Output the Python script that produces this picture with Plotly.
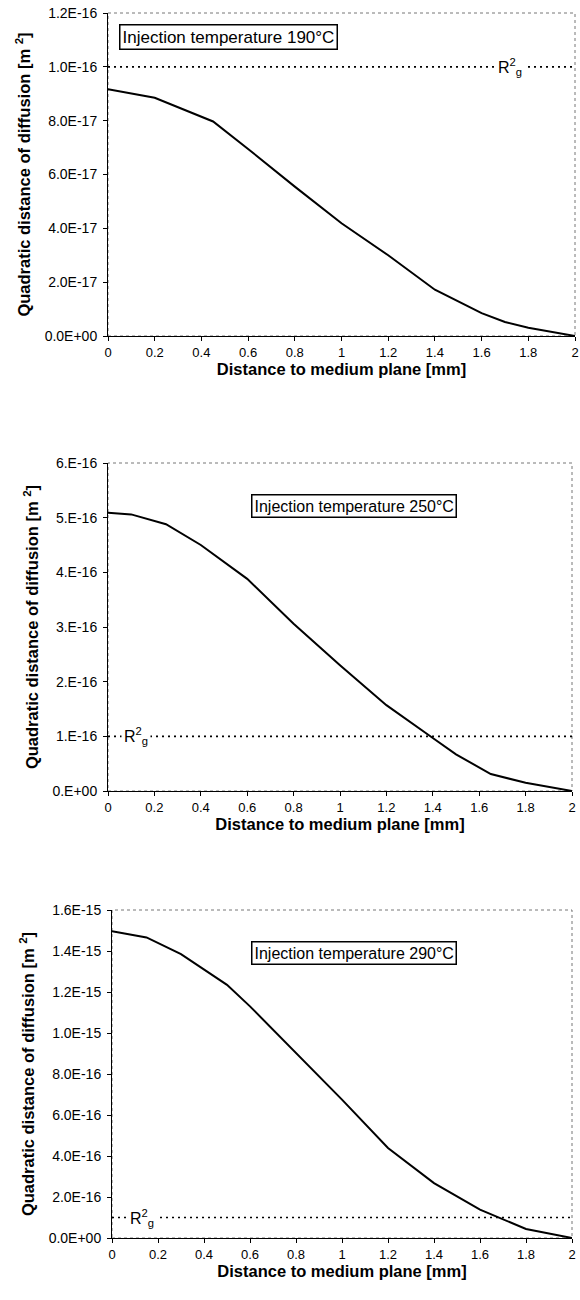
import plotly.graph_objects as go

# ---------------- data ----------------
x_190 = [0, 0.2, 0.45, 0.6, 0.8, 1.0, 1.2, 1.4, 1.6, 1.7, 1.8, 1.9, 2.0]
y_190 = [9.17e-17, 8.85e-17, 7.97e-17, 6.95e-17, 5.55e-17, 4.19e-17, 3.0e-17,
         1.72e-17, 0.85e-17, 0.52e-17, 0.31e-17, 0.15e-17, 0.0]

x_250 = [0, 0.1, 0.25, 0.4, 0.6, 0.8, 1.0, 1.2, 1.4, 1.5, 1.65, 1.8, 2.0]
y_250 = [5.09e-16, 5.06e-16, 4.88e-16, 4.50e-16, 3.88e-16, 3.06e-16, 2.30e-16,
         1.57e-16, 0.97e-16, 0.67e-16, 0.31e-16, 0.15e-16, 0.0]

x_290 = [0, 0.15, 0.3, 0.5, 0.6, 0.8, 1.0, 1.2, 1.4, 1.6, 1.8, 2.0]
y_290 = [1.496e-15, 1.466e-15, 1.385e-15, 1.235e-15, 1.13e-15, 9.05e-16, 6.75e-16,
         4.39e-16, 2.68e-16, 1.38e-16, 0.44e-16, 0.0]

rg2 = 1e-16  # R^2_g level

x_tickvals = [0, 0.2, 0.4, 0.6, 0.8, 1.0, 1.2, 1.4, 1.6, 1.8, 2.0]
x_ticktext = ["0", "0.2", "0.4", "0.6", "0.8", "1", "1.2", "1.4", "1.6", "1.8", "2"]

y1_tickvals = [0, 2e-17, 4e-17, 6e-17, 8e-17, 1e-16, 1.2e-16]
y1_ticktext = ["0.0E+00", "2.0E-17", "4.0E-17", "6.0E-17", "8.0E-17", "1.0E-16", "1.2E-16"]
y2_tickvals = [0, 1e-16, 2e-16, 3e-16, 4e-16, 5e-16, 6e-16]
y2_ticktext = ["0.E+00", "1.E-16", "2.E-16", "3.E-16", "4.E-16", "5.E-16", "6.E-16"]
y3_tickvals = [0, 2e-16, 4e-16, 6e-16, 8e-16, 1e-15, 1.2e-15, 1.4e-15, 1.6e-15]
y3_ticktext = ["0.0E+00", "2.0E-16", "4.0E-16", "6.0E-16", "8.0E-16", "1.0E-15",
               "1.2E-15", "1.4E-15", "1.6E-15"]

box_texts = ["Injection temperature 190°C", "Injection temperature 250°C",
             "Injection temperature 290°C"]

x_title = "Distance to medium plane [mm]"
y_title = "Quadratic distance of diffusion [m <sup>2</sup>]"
rg_label = "R<sup>2</sup><sub>g</sub>"

# ---------------- figure ----------------
W, H = 580, 1300
FONT = "Arial, Liberation Sans, sans-serif"

panels = [
    dict(x=x_190, y=y_190, yr=[0, 1.2e-16], tv=y1_tickvals, tt=y1_ticktext,
         xd=[108 / W, 575 / W], yd=[1 - 336 / H, 1 - 13 / H],
         box=box_texts[0], box_pos=(0.045, 1.11e-16), box_size=17,
         rg_x=1.72),
    dict(x=x_250, y=y_250, yr=[0, 6e-16], tv=y2_tickvals, tt=y2_ticktext,
         xd=[108 / W, 572 / W], yd=[1 - 791 / H, 1 - 463 / H],
         box=box_texts[1], box_pos=(0.615, 5.22e-16), box_size=16,
         rg_x=0.12),
    dict(x=x_290, y=y_290, yr=[0, 1.6e-15], tv=y3_tickvals, tt=y3_ticktext,
         xd=[112 / W, 572 / W], yd=[1 - 1238 / H, 1 - 910 / H],
         box=box_texts[2], box_pos=(0.605, 1.39e-15), box_size=16,
         rg_x=0.13),
]

fig = go.Figure()
layout = dict(
    width=W, height=H, margin=dict(l=0, r=0, t=0, b=0),
    paper_bgcolor="white", plot_bgcolor="white", showlegend=False,
    font=dict(family=FONT, color="black", size=12),
)
shapes = []
annotations = []

for i, p in enumerate(panels, start=1):
    xa = "x" if i == 1 else f"x{i}"
    ya = "y" if i == 1 else f"y{i}"
    xkey = "xaxis" if i == 1 else f"xaxis{i}"
    ykey = "yaxis" if i == 1 else f"yaxis{i}"

    fig.add_trace(go.Scatter(x=p["x"], y=p["y"], mode="lines",
                             line=dict(color="black", width=2),
                             xaxis=xa, yaxis=ya, cliponaxis=False,
                             hoverinfo="skip"))
    # R^2_g dotted level line
    fig.add_trace(go.Scatter(x=[0, 2], y=[rg2, rg2], mode="lines",
                             line=dict(color="black", width=1.7, dash="2px,4px"),
                             xaxis=xa, yaxis=ya, hoverinfo="skip"))

    layout[xkey] = dict(
        domain=p["xd"], anchor=ya, range=[0, 2], tickvals=x_tickvals,
        ticktext=x_ticktext, showline=True, linecolor="black", linewidth=1,
        ticks="outside", ticklen=4, tickcolor="black", showgrid=False,
        zeroline=False, tickfont=dict(size=13, family=FONT),
        title=dict(text=f"<b>{x_title}</b>", font=dict(size=16.5, family=FONT),
                   standoff=2),
        automargin=False, fixedrange=True,
    )
    layout[ykey] = dict(
        domain=p["yd"], anchor=xa, range=p["yr"], tickvals=p["tv"],
        ticktext=p["tt"], showline=True, linecolor="black", linewidth=1,
        ticks="outside", ticklen=4, tickcolor="black", showgrid=False,
        zeroline=False, tickfont=dict(size=14, family=FONT),
        ticklabelstandoff=3,
        title=dict(text=f"<b>{y_title}</b>", font=dict(size=16.5, family=FONT),
                   standoff=9),
        automargin=False, fixedrange=True,
    )

    # dotted plot-area border (top/right look)
    shapes.append(dict(type="rect", xref=f"{xa} domain", yref=f"{ya} domain",
                       x0=0, x1=1, y0=0, y1=1, layer="below",
                       line=dict(color="#777777", width=1, dash="dot")))

    annotations.append(dict(
        x=p["box_pos"][0], y=p["box_pos"][1], xref=xa, yref=ya,
        text=p["box"], showarrow=False, xanchor="left", yanchor="middle",
        font=dict(size=p["box_size"], family=FONT, color="black"),
        bgcolor="white", bordercolor="black", borderwidth=1.5, borderpad=2,
    ))
    annotations.append(dict(
        x=p["rg_x"], y=rg2, xref=xa, yref=ya, text=rg_label, showarrow=False,
        xanchor="center", yanchor="middle",
        font=dict(size=16, family=FONT, color="black"),
        bgcolor="white", borderpad=2,
    ))

layout["shapes"] = shapes
layout["annotations"] = annotations
fig.update_layout(**layout)
fig.write_html("out.html")
